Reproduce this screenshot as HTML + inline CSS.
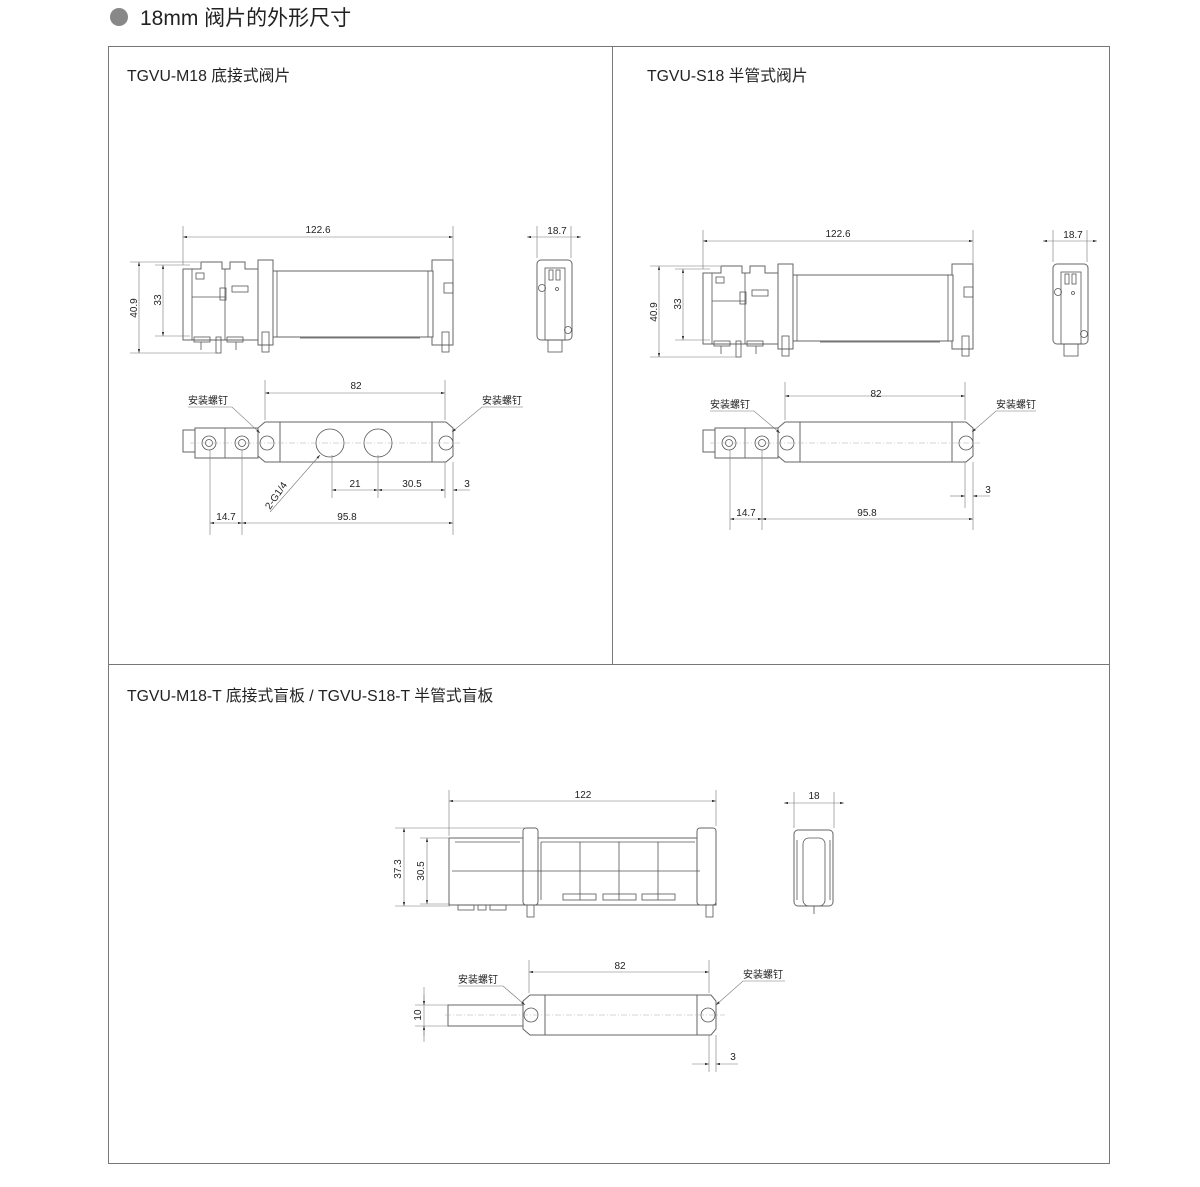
<!DOCTYPE html>
<html><head><meta charset="utf-8"><style>
body{margin:0;background:#fff;}
svg{display:block;font-family:"Liberation Sans","Noto Sans CJK SC",sans-serif;}
.l{stroke:#555;stroke-width:0.8;fill:none}
.b{stroke:#666;stroke-width:1;fill:#fff}
.d{stroke:#777;stroke-width:0.6;fill:none}
.c{stroke:#aaa;stroke-width:0.5;stroke-dasharray:6 2 1 2;fill:none}
.t{font-size:10px;fill:#222}
.h{font-size:15.8px;fill:#222}
</style></head><body>
<svg width="1200" height="1187" viewBox="0 0 1200 1187">
<defs>
<marker id="a" viewBox="0 0 10 6" refX="10" refY="3" markerWidth="8" markerHeight="4" orient="auto-start-reverse"><path d="M0,0L10,3L0,6z" fill="#333"/></marker>
<g id="front">
 <path class="b" d="M183,269 L183,340 L258,340 L258,269 L245,269 L245,262 L230,262 L230,269 L222,269 L222,262 L201,262 L201,269 Z"/>
 <line class="l" x1="192" y1="269" x2="192" y2="340"/><line class="l" x1="225" y1="269" x2="225" y2="340"/>
 <line class="l" x1="192" y1="297" x2="225" y2="297"/>
 <rect class="l" x="232" y="286" width="16" height="6"/><rect class="l" x="220" y="288" width="6" height="12"/>
 <rect class="l" x="196" y="273" width="8" height="6"/>
 <rect class="b" x="258" y="260" width="15" height="85"/>
 <rect class="b" x="432" y="260" width="21" height="85"/>
 <rect class="b" x="273" y="271" width="160" height="66"/>
 <line class="l" x1="277" y1="271" x2="277" y2="337"/><line class="l" x1="428" y1="271" x2="428" y2="337"/>
 <rect class="l" x="444" y="283" width="9" height="10"/>
 <rect class="l" x="262" y="332" width="7" height="20"/><rect class="l" x="442" y="332" width="7" height="20"/>
 <rect class="l" x="194" y="337" width="16" height="5"/><rect class="l" x="227" y="337" width="16" height="5"/>
 <line class="l" x1="201" y1="342" x2="201" y2="350"/><line class="l" x1="236" y1="342" x2="236" y2="350"/>
 <rect class="l" x="216" y="337" width="5" height="16"/>
 <line class="l" x1="300" y1="338" x2="420" y2="338"/>
 <line class="d" x1="183" y1="226" x2="183" y2="265"/><line class="d" x1="453" y1="226" x2="453" y2="262"/>
 <line class="d" x1="183" y1="237" x2="453" y2="237" marker-start="url(#a)" marker-end="url(#a)"/>
 <text class="t" x="318" y="233" text-anchor="middle">122.6</text>
 <line class="d" x1="130" y1="262" x2="200" y2="262"/><line class="d" x1="130" y1="353" x2="218" y2="353"/>
 <line class="d" x1="155" y1="265" x2="190" y2="265"/><line class="d" x1="155" y1="336" x2="190" y2="336"/>
 <line class="d" x1="139" y1="262" x2="139" y2="353" marker-start="url(#a)" marker-end="url(#a)"/>
 <line class="d" x1="163" y1="265" x2="163" y2="336" marker-start="url(#a)" marker-end="url(#a)"/>
 <text class="t" transform="translate(137,308) rotate(-90)" text-anchor="middle">40.9</text>
 <text class="t" transform="translate(161,300) rotate(-90)" text-anchor="middle">33</text>
</g>
<g id="sidev">
 <rect class="b" x="537" y="260" width="35" height="80" rx="4"/>
 <rect class="l" x="545" y="268" width="20" height="72"/>
 <rect class="l" x="549" y="270" width="4" height="10"/><rect class="l" x="556" y="270" width="4" height="10"/>
 <circle class="l" cx="542" cy="288" r="3.5"/><circle class="l" cx="568" cy="330" r="3.5"/><circle class="l" cx="557" cy="289" r="1.5"/>
 <rect class="l" x="548" y="340" width="14" height="12"/>
 <line class="d" x1="537" y1="226" x2="537" y2="258"/><line class="d" x1="571" y1="226" x2="571" y2="258"/>
 <line class="d" x1="527" y1="237" x2="581" y2="237" marker-start="url(#a)" marker-end="url(#a)"/>
 <text class="t" x="557" y="234" text-anchor="middle">18.7</text>
</g>
<g id="endsL">
 <rect class="b" x="183" y="430" width="12" height="22"/>
 <rect class="b" x="195" y="428" width="63" height="30"/>
 <line class="l" x1="225" y1="428" x2="225" y2="458"/>
 <circle class="l" cx="209" cy="443" r="7"/><circle class="l" cx="209" cy="443" r="3.5"/>
 <circle class="l" cx="242" cy="443" r="7"/><circle class="l" cx="242" cy="443" r="3.5"/>
</g>
</defs>

<circle cx="119" cy="17" r="9" fill="#888"/>
<text x="140" y="25" style="font-size:21px;fill:#222">18mm  阀片的外形尺寸</text>

<rect x="108.5" y="46.5" width="1001" height="1117" fill="none" stroke="#777" stroke-width="1"/>
<line x1="612.5" y1="46" x2="612.5" y2="664" stroke="#777"/>
<line x1="108" y1="664.5" x2="1110" y2="664.5" stroke="#777"/>

<text class="h" x="127" y="81">TGVU-M18 底接式阀片</text>
<text class="h" x="647" y="81">TGVU-S18 半管式阀片</text>
<text class="h" x="127" y="701">TGVU-M18-T 底接式盲板 / TGVU-S18-T 半管式盲板</text>

<!-- Panel 1 -->
<use href="#front"/><use href="#sidev"/>
<use href="#endsL"/>
<path class="b" d="M258,428 L265,422 L280,422 L280,462 L265,462 L258,456 Z"/>
<rect class="b" x="280" y="422" width="152" height="40"/>
<path class="b" d="M432,422 L446,422 L453,428 L453,456 L446,462 L432,462 Z"/>
<circle class="l" cx="267" cy="443" r="7"/><circle class="l" cx="446" cy="443" r="7"/>
<circle class="l" cx="330" cy="443" r="14"/><circle class="l" cx="378" cy="443" r="14"/>
<line class="c" x1="190" y1="443" x2="460" y2="443"/>
<line class="d" x1="265" y1="380" x2="265" y2="420"/><line class="d" x1="445" y1="380" x2="445" y2="420"/>
<line class="d" x1="265" y1="393" x2="445" y2="393" marker-start="url(#a)" marker-end="url(#a)"/>
<text class="t" x="356" y="389" text-anchor="middle">82</text>
<text class="t" x="188" y="404">安装螺钉</text><text class="t" x="482" y="404">安装螺钉</text>
<polyline class="d" points="188,407 232,407 260,433" marker-end="url(#a)"/>
<polyline class="d" points="523,407 482,407 452,432" marker-end="url(#a)"/>
<line class="d" x1="332" y1="455" x2="332" y2="498"/><line class="d" x1="378" y1="455" x2="378" y2="498"/>
<line class="d" x1="445" y1="462" x2="445" y2="498"/><line class="d" x1="453" y1="462" x2="453" y2="535"/>
<line class="d" x1="332" y1="490" x2="378" y2="490" marker-start="url(#a)" marker-end="url(#a)"/>
<line class="d" x1="378" y1="490" x2="445" y2="490" marker-start="url(#a)" marker-end="url(#a)"/>
<line class="d" x1="453" y1="490" x2="470" y2="490" marker-start="url(#a)"/>
<text class="t" x="355" y="487" text-anchor="middle">21</text>
<text class="t" x="412" y="487" text-anchor="middle">30.5</text>
<text class="t" x="467" y="487" text-anchor="middle">3</text>
<line class="d" x1="320" y1="455" x2="270" y2="512" marker-start="url(#a)"/>
<text class="t" transform="translate(270,510) rotate(-55)">2-G1/4</text>
<line class="d" x1="210" y1="450" x2="210" y2="535"/><line class="d" x1="242" y1="450" x2="242" y2="535"/>
<line class="d" x1="210" y1="523" x2="242" y2="523" marker-start="url(#a)" marker-end="url(#a)"/>
<line class="d" x1="242" y1="523" x2="453" y2="523" marker-start="url(#a)" marker-end="url(#a)"/>
<text class="t" x="226" y="520" text-anchor="middle">14.7</text>
<text class="t" x="347" y="520" text-anchor="middle">95.8</text>

<!-- Panel 2 -->
<g transform="translate(520,4)"><use href="#front"/></g>
<g transform="translate(516,4)"><use href="#sidev"/></g>
<g transform="translate(520,0)">
<use href="#endsL"/>
<path class="b" d="M258,428 L265,422 L280,422 L280,462 L265,462 L258,456 Z"/>
<rect class="b" x="280" y="422" width="152" height="40"/>
<path class="b" d="M432,422 L446,422 L453,428 L453,456 L446,462 L432,462 Z"/>
<circle class="l" cx="267" cy="443" r="7"/><circle class="l" cx="446" cy="443" r="7"/>
<line class="c" x1="190" y1="443" x2="460" y2="443"/>
<line class="d" x1="265" y1="382" x2="265" y2="420"/><line class="d" x1="445" y1="382" x2="445" y2="420"/>
<line class="d" x1="265" y1="396" x2="445" y2="396" marker-start="url(#a)" marker-end="url(#a)"/>
<text class="t" x="356" y="397" text-anchor="middle">82</text>
<text class="t" x="190" y="408">安装螺钉</text><text class="t" x="476" y="408">安装螺钉</text>
<polyline class="d" points="190,411 234,411 260,433" marker-end="url(#a)"/>
<polyline class="d" points="516,411 476,411 452,432" marker-end="url(#a)"/>
<line class="d" x1="445" y1="462" x2="445" y2="508"/><line class="d" x1="453" y1="462" x2="453" y2="530"/>
<line class="d" x1="430" y1="496" x2="445" y2="496" marker-end="url(#a)"/>
<line class="d" x1="453" y1="496" x2="470" y2="496" marker-start="url(#a)"/>
<text class="t" x="468" y="493" text-anchor="middle">3</text>
<line class="d" x1="210" y1="450" x2="210" y2="530"/><line class="d" x1="242" y1="450" x2="242" y2="530"/>
<line class="d" x1="210" y1="519" x2="242" y2="519" marker-start="url(#a)" marker-end="url(#a)"/>
<line class="d" x1="242" y1="519" x2="453" y2="519" marker-start="url(#a)" marker-end="url(#a)"/>
<text class="t" x="226" y="516" text-anchor="middle">14.7</text>
<text class="t" x="347" y="516" text-anchor="middle">95.8</text>
</g>

<!-- Panel 3 front -->
<rect class="b" x="449" y="838" width="267" height="67"/>
<rect class="b" x="523" y="828" width="15" height="77" rx="3"/>
<rect class="b" x="697" y="828" width="19" height="77" rx="3"/>
<line class="l" x1="452" y1="871" x2="700" y2="871"/>
<line class="l" x1="455" y1="842" x2="520" y2="842"/><line class="l" x1="541" y1="842" x2="695" y2="842"/>
<line class="l" x1="580" y1="842" x2="580" y2="900"/><line class="l" x1="619" y1="842" x2="619" y2="900"/><line class="l" x1="658" y1="842" x2="658" y2="900"/>
<line class="l" x1="541" y1="842" x2="541" y2="900"/>
<rect class="l" x="563" y="894" width="33" height="6"/><rect class="l" x="603" y="894" width="33" height="6"/><rect class="l" x="642" y="894" width="33" height="6"/>
<rect class="l" x="527" y="905" width="7" height="12"/><rect class="l" x="706" y="905" width="7" height="12"/>
<rect class="l" x="458" y="905" width="16" height="5"/><rect class="l" x="478" y="905" width="8" height="5"/><rect class="l" x="490" y="905" width="16" height="5"/>
<line class="d" x1="449" y1="790" x2="449" y2="836"/><line class="d" x1="716" y1="790" x2="716" y2="826"/>
<line class="d" x1="449" y1="801" x2="716" y2="801" marker-start="url(#a)" marker-end="url(#a)"/>
<text class="t" x="583" y="798" text-anchor="middle">122</text>
<line class="d" x1="395" y1="828" x2="525" y2="828"/><line class="d" x1="395" y1="906" x2="450" y2="906"/>
<line class="d" x1="420" y1="838" x2="450" y2="838"/><line class="d" x1="420" y1="904" x2="450" y2="904"/>
<line class="d" x1="404" y1="828" x2="404" y2="906" marker-start="url(#a)" marker-end="url(#a)"/>
<line class="d" x1="427" y1="838" x2="427" y2="904" marker-start="url(#a)" marker-end="url(#a)"/>
<text class="t" transform="translate(401,869) rotate(-90)" text-anchor="middle">37.3</text>
<text class="t" transform="translate(424,871) rotate(-90)" text-anchor="middle">30.5</text>
<rect class="b" x="794" y="830" width="39" height="76" rx="4"/>
<rect class="l" x="803" y="838" width="22" height="68" rx="6"/>
<line class="l" x1="797" y1="840" x2="797" y2="900"/><line class="l" x1="830" y1="840" x2="830" y2="900"/>
<line class="l" x1="814" y1="906" x2="814" y2="914"/>
<line class="d" x1="794" y1="792" x2="794" y2="828"/><line class="d" x1="834" y1="792" x2="834" y2="828"/>
<line class="d" x1="784" y1="803" x2="844" y2="803" marker-start="url(#a)" marker-end="url(#a)"/>
<text class="t" x="814" y="799" text-anchor="middle">18</text>
<rect class="b" x="448" y="1005" width="75" height="21"/>
<path class="b" d="M523,1001 L530,995 L545,995 L545,1035 L530,1035 L523,1029 Z"/>
<rect class="b" x="545" y="995" width="152" height="40"/>
<path class="b" d="M697,995 L711,995 L716,1001 L716,1029 L711,1035 L697,1035 Z"/>
<circle class="l" cx="531" cy="1015" r="7"/><circle class="l" cx="708" cy="1015" r="7"/>
<line class="c" x1="445" y1="1015" x2="725" y2="1015"/>
<line class="d" x1="529" y1="960" x2="529" y2="993"/><line class="d" x1="709" y1="960" x2="709" y2="993"/>
<line class="d" x1="529" y1="972" x2="709" y2="972" marker-start="url(#a)" marker-end="url(#a)"/>
<text class="t" x="620" y="969" text-anchor="middle">82</text>
<text class="t" x="458" y="983">安装螺钉</text><text class="t" x="743" y="978">安装螺钉</text>
<polyline class="d" points="458,986 503,986 525,1005" marker-end="url(#a)"/>
<polyline class="d" points="785,981 743,981 716,1005" marker-end="url(#a)"/>
<line class="d" x1="415" y1="1005" x2="448" y2="1005"/><line class="d" x1="415" y1="1026" x2="448" y2="1026"/>
<line class="d" x1="424" y1="987" x2="424" y2="1042" />
<line class="d" x1="424" y1="995" x2="424" y2="1005" marker-end="url(#a)"/><line class="d" x1="424" y1="1036" x2="424" y2="1026" marker-end="url(#a)"/>
<text class="t" transform="translate(421,1015) rotate(-90)" text-anchor="middle">10</text>
<line class="d" x1="709" y1="1035" x2="709" y2="1072"/><line class="d" x1="716" y1="1035" x2="716" y2="1072"/>
<line class="d" x1="692" y1="1064" x2="709" y2="1064" marker-end="url(#a)"/>
<line class="d" x1="716" y1="1064" x2="738" y2="1064" marker-start="url(#a)"/>
<text class="t" x="733" y="1060" text-anchor="middle">3</text>
</svg>
</body></html>
